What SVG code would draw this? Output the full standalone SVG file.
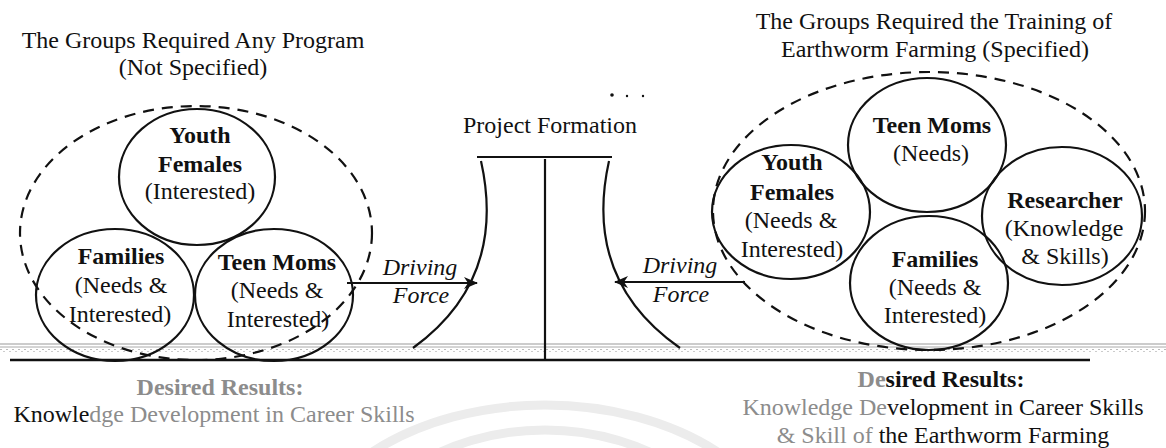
<svg xmlns="http://www.w3.org/2000/svg" width="1166" height="448" viewBox="0 0 1166 448">
  <style>
    text { font-family: "Liberation Serif", "Times New Roman", serif; font-size: 24px; fill: #111; text-anchor: middle; }
    .b { font-weight: bold; }
    .i { font-style: italic; }
    .g { fill: #8c8c8c; }
    .node { fill: none; stroke: #111; stroke-width: 2.2; }
    .dash { fill: none; stroke: #111; stroke-width: 2.2; stroke-dasharray: 11 8; }
    .line { fill: none; stroke: #111; stroke-width: 2.2; }
    .wm { fill: none; stroke: #ececec; stroke-width: 9; }
  </style>
  <defs>
    <marker id="ah" markerWidth="14" markerHeight="12" refX="13" refY="6" orient="auto" markerUnits="userSpaceOnUse">
      <path d="M0,0 L14,6 L0,12 L4,6 Z" fill="#111"/>
    </marker>
    <pattern id="dots" width="6" height="4" patternUnits="userSpaceOnUse">
      <rect x="0" y="1" width="2" height="1" fill="#bbb"/>
      <rect x="3" y="3" width="2" height="1" fill="#ccc"/>
    </pattern>
  </defs>
  <rect width="1166" height="448" fill="#fff"/>

  <!-- watermark -->
  <g id="watermark">
    <ellipse class="wm" cx="545" cy="575" rx="250" ry="170"/>
    <ellipse class="wm" cx="545" cy="580" rx="200" ry="150"/>
  </g>

  <!-- ground -->
  <g id="ground">
    <line x1="0" y1="344" x2="1166" y2="344" stroke="#999" stroke-width="1.2"/>
    <line x1="0" y1="347" x2="1166" y2="347" stroke="#aaa" stroke-width="1"/>
    <rect x="0" y="348.5" width="1166" height="4" fill="url(#dots)"/>
    <line x1="10" y1="360" x2="1090" y2="360" stroke="#111" stroke-width="2.4"/>
  </g>

  <!-- left group -->
  <g id="left-title">
    <text x="193" y="48">The Groups Required Any Program</text>
    <text x="193" y="75">(Not Specified)</text>
  </g>
  <g id="left-group">
    <ellipse class="dash" cx="196" cy="233" rx="176" ry="127"/>
  </g>
  <g id="left-youth-females">
    <ellipse class="node" cx="197" cy="177" rx="78" ry="68"/>
    <text class="b" x="200" y="143">Youth</text>
    <text class="b" x="200" y="172">Females</text>
    <text x="200" y="199">(Interested)</text>
  </g>
  <g id="left-families">
    <ellipse class="node" cx="115" cy="295" rx="79" ry="66"/>
    <text class="b" x="121" y="264">Families</text>
    <text x="121" y="293">(Needs &amp;</text>
    <text x="120" y="322">Interested)</text>
  </g>
  <g id="left-teen-moms">
    <ellipse class="node" cx="274" cy="295" rx="79" ry="66"/>
    <text class="b" x="277" y="270">Teen Moms</text>
    <text x="277" y="298">(Needs &amp;</text>
    <text x="278" y="327">Interested)</text>
  </g>

  <!-- project formation -->
  <g id="project-formation">
    <text x="550" y="133">Project Formation</text>
    <line class="line" x1="477" y1="157" x2="612" y2="157"/>
    <line class="line" x1="545" y1="159" x2="545" y2="360"/>
    <path class="line" d="M481 161 C493 215 493 290 413 348"/>
    <path class="line" d="M609 161 C597 215 597 290 680 348"/>
    <circle cx="612" cy="95" r="1.8" fill="#111"/>
    <circle cx="627" cy="96" r="1.2" fill="#111"/>
    <circle cx="643" cy="96" r="1.2" fill="#111"/>
  </g>

  <!-- connectors -->
  <g id="connectors">
    <line class="line" x1="347" y1="283" x2="477" y2="283" marker-end="url(#ah)"/>
    <text class="i" x="420" y="275">Driving</text>
    <text class="i" x="421" y="303">Force</text>
    <line class="line" x1="745" y1="282" x2="615" y2="282" marker-end="url(#ah)"/>
    <text class="i" x="680" y="273">Driving</text>
    <text class="i" x="681" y="302">Force</text>
  </g>

  <!-- right group -->
  <g id="right-title">
    <text x="934" y="29">The Groups Required the Training of</text>
    <text x="935" y="57">Earthworm Farming (Specified)</text>
  </g>
  <g id="right-group">
    <ellipse class="dash" cx="929" cy="211" rx="216" ry="139"/>
  </g>
  <g id="right-teen-moms">
    <ellipse class="node" cx="927" cy="145" rx="79" ry="67"/>
    <text class="b" x="932" y="133">Teen Moms</text>
    <text x="931" y="161">(Needs)</text>
  </g>
  <g id="right-youth-females">
    <ellipse class="node" cx="791" cy="212" rx="79" ry="67"/>
    <text class="b" x="792" y="170">Youth</text>
    <text class="b" x="792" y="200">Females</text>
    <text x="791" y="228">(Needs &amp;</text>
    <text x="792" y="257">Interested)</text>
  </g>
  <g id="right-researcher">
    <ellipse class="node" cx="1062" cy="216" rx="80" ry="69"/>
    <text class="b" x="1065" y="208">Researcher</text>
    <text x="1064" y="236">(Knowledge</text>
    <text x="1065" y="264">&amp; Skills)</text>
  </g>
  <g id="right-families">
    <ellipse class="node" cx="929" cy="283" rx="79" ry="67"/>
    <text class="b" x="935" y="267">Families</text>
    <text x="935" y="295">(Needs &amp;</text>
    <text x="935" y="323">Interested)</text>
  </g>

  <!-- results -->
  <g id="left-results">
    <text class="b g" x="220" y="395">Desired Results:</text>
    <text x="214" y="422"><tspan>Knowle</tspan><tspan class="g">dge Development in Career Skills</tspan></text>
  </g>
  <g id="right-results">
    <text class="b" x="941" y="387"><tspan class="g">De</tspan><tspan>sired Results:</tspan></text>
    <text x="943" y="415"><tspan class="g">Knowledge De</tspan><tspan>velopment in Career Skills</tspan></text>
    <text x="943" y="443"><tspan class="g">&amp; Skill of </tspan><tspan>the Earthworm Farming</tspan></text>
  </g>
</svg>
